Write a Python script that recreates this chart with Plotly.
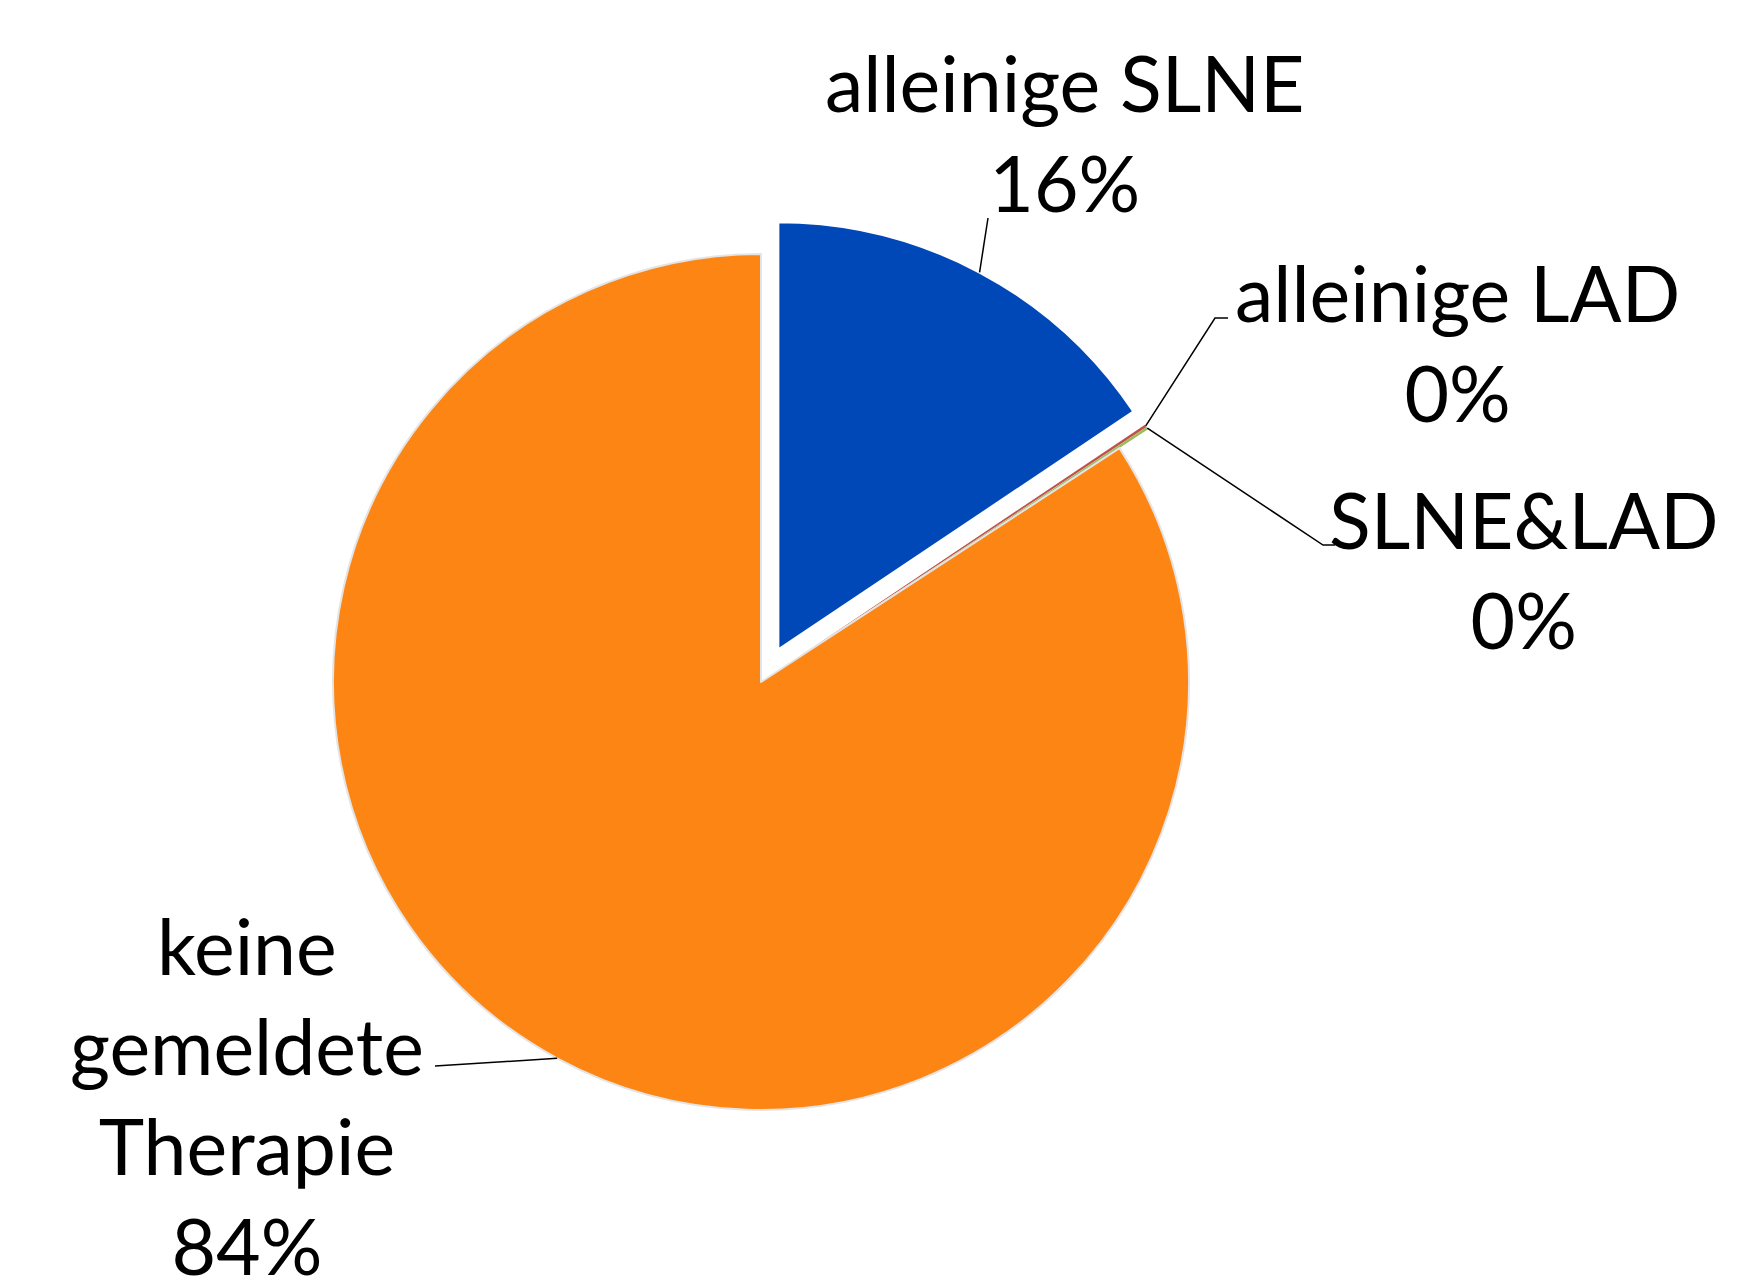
import math
import plotly.graph_objects as go

# ---- data ----
labels = ["alleinige SLNE", "alleinige LAD", "SLNE&LAD", "keine gemeldete Therapie"]
label_text = ["alleinige SLNE", "alleinige LAD", "SLNE&LAD", "keine<br>gemeldete<br>Therapie"]
values = [15.6, 0.1, 0.1, 84.2]
colors = ["#0047B8", "#C0504D", "#9BBB59", "#FC8514"]
pulls = [0.085, 0.08, 0.08, 0.0]

# ---- layout constants (pixels of the reference picture) ----
W, H = 1751, 1288
OFF = 8                      # page body margin in the browser
FW, FH = W - 2 * OFF, H - 2 * OFF
CX, CY, R = 761, 682, 428
maxpull = max(pulls)
half = R * (1 + maxpull)

def px(x):
    return (x - OFF) / FW

def py(y):
    return 1 - (y - OFF) / FH

# label anchor (center) positions & leader-line end points (pixel space)
label_pos = [(1065, 132), (1457, 342), (1524, 569), (247, 1095)]
leader_ends = [
    [(988, 218)],
    [(1215, 318), (1228, 318)],
    [(1323, 545), (1335, 545)],
    [(435, 1066)],
]

total = sum(values)
fig = go.Figure(go.Pie(
    labels=labels,
    values=values,
    sort=False,
    direction="clockwise",
    rotation=0,
    pull=pulls,
    marker=dict(colors=colors,
                line=dict(color=["white", "white", "white", "#e4e4e4"],
                          width=[2.5, 0, 0, 2])),
    textinfo="none",
    hoverinfo="label+percent",
    showlegend=False,
    domain=dict(x=[px(CX - half), px(CX + half)], y=[py(CY + half), py(CY - half)]),
))

shapes = []
annotations = []
cum = 0.0
for i, v in enumerate(values):
    a0 = cum / total * 360
    cum += v
    a1 = cum / total * 360
    mid = math.radians((a0 + a1) / 2)
    rr = R * (1 + pulls[i])
    sx = CX + rr * math.sin(mid)
    sy = CY - rr * math.cos(mid)
    pts = [(sx, sy)] + leader_ends[i]
    path = "M " + " L ".join(f"{px(x):.5f},{py(y):.5f}" for x, y in pts)
    shapes.append(dict(type="path", path=path, xref="paper", yref="paper",
                       line=dict(color="black", width=1.5)))
    pct = round(v / total * 100)
    lx, ly = label_pos[i]
    annotations.append(dict(
        text=f"{label_text[i]}<br>{pct}%",
        x=px(lx), y=py(ly), xref="paper", yref="paper",
        xanchor="center", yanchor="middle", showarrow=False,
        align="center",
        font=dict(family="Lato", size=77, color="black"),
    ))

fig.update_layout(
    width=FW, height=FH,
    margin=dict(l=0, r=0, t=0, b=0),
    paper_bgcolor="white",
    plot_bgcolor="white",
    shapes=shapes,
    annotations=annotations,
)

fig.write_html("out.html")
